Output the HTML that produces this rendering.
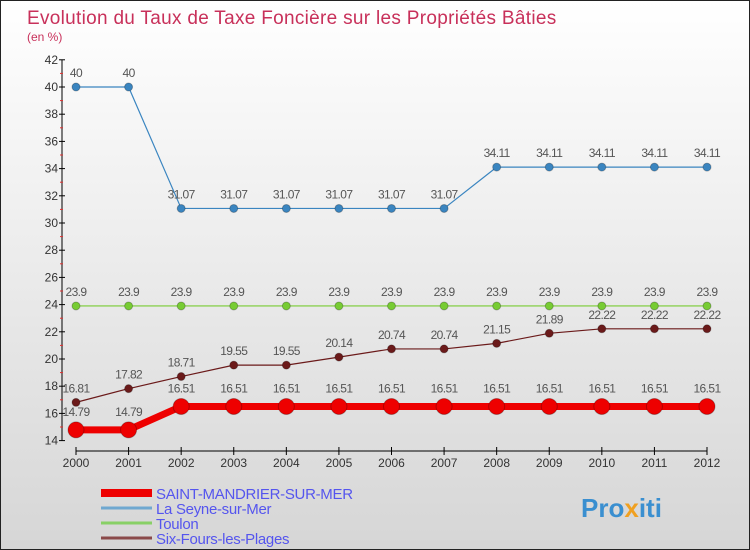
<!DOCTYPE html>
<html><head><meta charset="utf-8">
<style>
body{margin:0;}
#wrap{width:750px;height:550px;position:relative;overflow:hidden;box-sizing:border-box;border:1px solid #222;background:linear-gradient(#ffffff,#d6d6d6);font-family:"Liberation Sans",sans-serif;}
svg text{font-family:"Liberation Sans",sans-serif;}
</style></head><body>
<div id="wrap">
<svg id="chart" width="750" height="550">
<text x="26" y="23" font-size="19" fill="#c8305a" letter-spacing="0.3">Evolution du Taux de Taxe Foncière sur les Propriétés Bâties</text>
<text x="26" y="40" font-size="12" fill="#c8305a">(en %)</text>
<text x="580" y="516" font-size="26" font-weight="bold" fill="#3a8fd0">Pro<tspan fill="#f0a020">x</tspan>iti</text>
</svg>
</div>
<script>
const years=[2000,2001,2002,2003,2004,2005,2006,2007,2008,2009,2010,2011,2012];
const yTicks=[14,16,18,20,22,24,26,28,30,32,34,36,38,40,42];
const saint=[14.79,14.79,16.51,16.51,16.51,16.51,16.51,16.51,16.51,16.51,16.51,16.51,16.51];
const seyne=[40,40,31.07,31.07,31.07,31.07,31.07,31.07,34.11,34.11,34.11,34.11,34.11];
const toulon=[23.9,23.9,23.9,23.9,23.9,23.9,23.9,23.9,23.9,23.9,23.9,23.9,23.9];
const sixfours=[16.81,17.82,18.71,19.55,19.55,20.14,20.74,20.74,21.15,21.89,22.22,22.22,22.22];
const seriesNames=["SAINT-MANDRIER-SUR-MER","La Seyne-sur-Mer","Toulon","Six-Fours-les-Plages"];

const NS="http://www.w3.org/2000/svg";
const svg=document.getElementById('chart');
function X(i){return 75+i*(706-75)/(years.length-1);}
function Y(v){return 358-(v-20)*13.6;}
function mk(tag,attrs,parent){const e=document.createElementNS(NS,tag);for(const k in attrs)e.setAttribute(k,attrs[k]);(parent||svg).appendChild(e);return e;}
function fmt(v){return String(v);}

const ya=mk('line',{x1:61,y1:Y(42),x2:61,y2:Y(14),stroke:'#000','stroke-width':1});


yTicks.forEach(t=>{
  const tk=mk('line',{x1:58,x2:64,y1:Y(t),y2:Y(t),stroke:'#000'});
  
  
  if(t!==42)mk('line',{x1:59,x2:62,y1:Y(t+1),y2:Y(t+1),stroke:'#e03030'});
  const tl=mk('text',{x:57,y:Y(t)+4,'font-size':12,fill:'#333','text-anchor':'end'});
  tl.textContent=t;
  
  
});
const xa=mk('line',{x1:X(0),y1:450,x2:X(years.length-1),y2:450,stroke:'#000'});


years.forEach((y,i)=>{
  mk('line',{x1:X(i),x2:X(i),y1:446,y2:454,stroke:'#000'});
  const tl=mk('text',{x:X(i),y:466,'font-size':12,fill:'#333','text-anchor':'middle'});
  tl.textContent=y;
  
  
});

function series(vals,color,width,r,labelDy,name){
  const g=mk('g',{});
  
  
  mk('polyline',{points:vals.map((v,i)=>X(i)+','+Y(v)).join(' '),fill:'none',stroke:color,'stroke-width':width,'stroke-linejoin':'round'},g);
  vals.forEach((v,i)=>{
    const c=mk('circle',{cx:X(i),cy:Y(v),r:r,fill:color,stroke:'rgba(0,0,0,0.25)'},g);
    
    
    const t=mk('text',{x:X(i),y:Y(v)+labelDy,'font-size':12,fill:'#555','text-anchor':'middle','letter-spacing':'-0.6'},g);
    t.textContent=fmt(v);
    
    
  });
}
series(seyne,'#3a85c0',1.2,4,-10,'series-la-seyne');
series(toulon,'#77cc33',1.2,4,-10,'series-toulon');
series(sixfours,'#6b1a1a',1.2,4,-10,'series-six-fours');
series(saint,'#ee0000',7,8,-14,'series-saint-mandrier');

const cols=['#ee0000','#6fa8d0','#88d066','#8a4a4a'];
const widths=[8,3,3,3];
seriesNames.forEach((n,i)=>{
  const y=492+i*15;
  const l=mk('line',{x1:100,x2:151,y1:y,y2:y,stroke:cols[i],'stroke-width':widths[i]});
  
  
  const t=mk('text',{x:155,y:y+6,'font-size':15,fill:'#5555ee','letter-spacing':'-0.3'});
  t.textContent=n;
  
  
});
</script>
</body></html>
